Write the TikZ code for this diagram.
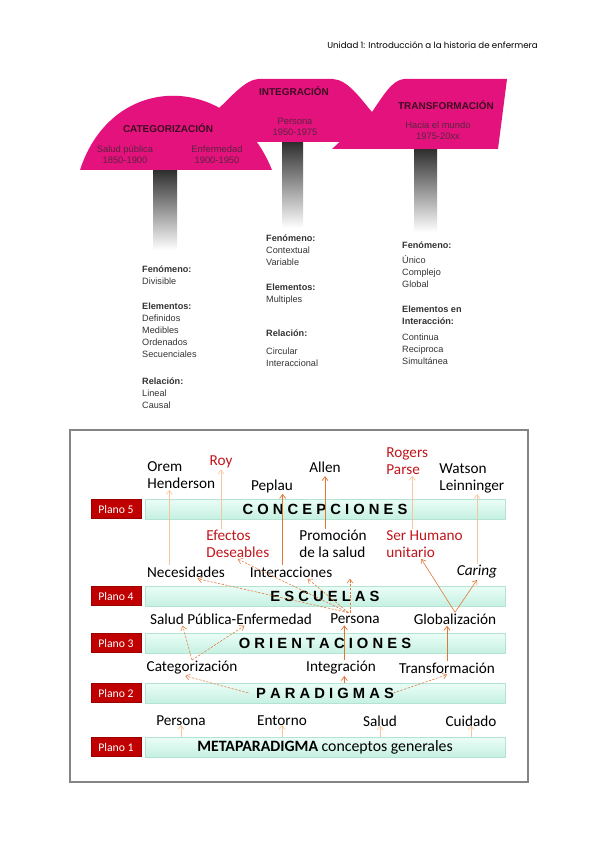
\documentclass[tikz,border=0pt]{standalone}
\usepackage{fontspec}
\setmainfont{Carlito}
\newfontfamily\arialf{Liberation Sans}
\newfontfamily\headf{Poppins}
\usepackage{tikz}
\usetikzlibrary{arrows.meta,positioning,shadows}
\definecolor{rosa}{HTML}{E4127C}
\definecolor{rosatxt}{HTML}{3D0A22}
\definecolor{rosasub}{HTML}{5B2342}
\definecolor{poste}{HTML}{2E2E2E}
\definecolor{gristxt}{HTML}{333333}
\definecolor{rojo}{HTML}{C00000}
\definecolor{rojotxt}{HTML}{C0161C}
\definecolor{naranja}{HTML}{E07636}
\definecolor{naranjaclaro}{HTML}{F7C59A}
\definecolor{menta}{HTML}{EAFDF7}
\definecolor{mentaosc}{HTML}{C6F1E2}
\definecolor{mentaborde}{HTML}{B5E3D3}
\definecolor{marco}{HTML}{858585}
\tikzset{plano/.style={fill=rojo,draw=rojo!80!black,text=white,font=\fontsize{10}{12}\selectfont,minimum width=1.5cm,minimum height=.57cm,inner sep=0pt},
barra/.style={top color=menta,bottom color=mentaosc,draw=mentaborde,line width=.3pt,minimum width=10.8cm,minimum height=.6cm,inner sep=0pt,drop shadow={opacity=.18,shadow xshift=.6pt,shadow yshift=-.8pt}},
rotulo/.style={font=\arialf\bfseries\fontsize{12.6}{14}\selectfont},
txt/.style={font=\fontsize{13}{14.5}\selectfont,inner sep=1pt,align=left},
rojos/.style={txt,text=rojotxt},
flecha/.style={-{Straight Barb[length=1.2mm,width=1.8mm]},draw=naranjaclaro,line width=.5pt},
flechaosc/.style={-{Straight Barb[length=1.2mm,width=1.8mm]},draw=naranja,line width=.6pt},
flechapunt/.style={-{Straight Barb[length=1.2mm,width=1.8mm]},draw=naranja,line width=.45pt,dash pattern=on 2pt off 1.2pt}}
\begin{document}
\begin{tikzpicture}[x=.03cm,y=-.03cm,
tit/.style={font=\arialf\bfseries\fontsize{8.5}{10}\selectfont,text=rosatxt,inner sep=0pt},
sub/.style={font=\arialf\fontsize{8}{9.4}\selectfont,text=rosasub,align=center,inner sep=0pt},
col/.style={font=\arialf\fontsize{7.8}{10.2}\selectfont,text=gristxt,align=left,anchor=north west,inner sep=0pt}]
\useasboundingbox[fill=white] (0,0) rectangle (600,848);
\node[font=\headf\fontsize{7.4}{8}\selectfont,anchor=east,inner sep=0pt] (cabecera) at (538,45) {Unidad 1: Introducción a la historia de enfermera};
% postes
\shade[top color=poste,bottom color=white] (153,170) rectangle (177,250);
\shade[top color=poste,bottom color=white] (282,142) rectangle (303,228);
\shade[top color=poste,bottom color=white] (414,149) rectangle (437,232);
% formas
\fill[rosa] (214,142) -- (214,113) .. controls (232,96) and (245,80) .. (258,79) -- (333,79) .. controls (348,80) and (360,98) .. (372,112) -- (372,142) -- cycle;
\fill[rosa] (80,170) .. controls (112,71) and (232,71) .. (272,170) -- cycle;
\fill[rosa] (332,149) -- (372,112) .. controls (383,96) and (392,80) .. (404,79) -- (507,79) -- (498,149) -- cycle;
\node[tit] (tcat) at (168,128) {CATEGORIZACIÓN};
\node[sub] (scat1) at (125,155) {Salud pública\\1850-1900};
\node[sub] (scat2) at (217,155) {Enfermedad\\1900-1950};
\node[tit] (tint) at (294,91) {INTEGRACIÓN};
\node[sub] (sint) at (295,127) {Persona\\1950-1975};
\node[tit] (ttra) at (446,105) {TRANSFORMACIÓN};
\node[sub] (stra) at (438,131) {Hacia el mundo\\1975-20xx};
% columnas
\node[col] (fen1) at (142,266) {\textbf{Fenómeno:}\\Divisible};
\node[col] (ele1) at (142,303) {\textbf{Elementos:}\\Definidos\\Medibles\\Ordenados\\Secuenciales};
\node[col] (rel1) at (142,378) {\textbf{Relación:}\\Lineal\\Causal};
\node[col] (fen2) at (266,235) {\textbf{Fenómeno:}\\Contextual\\Variable};
\node[col] (ele2) at (266,284) {\textbf{Elementos:}\\Multiples};
\node[col] (rel2) at (266,330) {\textbf{Relación:}\\[5pt]Circular\\Interaccional};
\node[col] (fen3) at (402,242) {\textbf{Fenómeno:}\\[2pt]Único\\Complejo\\Global};
\node[col] (ele3) at (402,306) {\textbf{Elementos en}\\\textbf{Interacción:}\\[3pt]Continua\\Reciproca\\Simultánea};
% cuadro inferior
\draw[marco,line width=1.4pt] (70,430) rectangle (528,782);
\foreach \n/\y in {5/509,4/596,3/643,2/693,1/747}{
  \node[plano] (p\n) at (116,\y) {Plano \n};
}
\node[barra,rotulo] (concep) at (325,509) {C O N C E P C I O N E S};
\node[barra,rotulo] (escuel) at (325,596) {E S C U E L A S};
\node[barra,rotulo] (orient) at (325,643) {O R I E N T A C I O N E S};
\node[barra,rotulo] (parad) at (325,693) {P A R A D I G M A S};
\node[barra,font=\fontsize{13.5}{15}\selectfont] (meta) at (325,747) {\textbf{METAPARADIGMA} conceptos generales};
% plano 5
\node[txt,anchor=west] (orem) at (146,475) {Orem\\Henderson};
\node[rojos] (roy) at (221,462) {Roy};
\node[txt] (peplau) at (272,486) {Peplau};
\node[txt] (allen) at (325,467) {Allen};
\node[rojos,anchor=west] (rogers) at (385,461) {Rogers\\Parse};
\node[txt,anchor=west] (watson) at (438,478) {Watson\\Leinninger};
% plano 4
\node[rojos,anchor=west] (efectos) at (205,544) {Efectos\\Deseables};
\node[txt,anchor=west] (promo) at (298,544) {Promoción\\de la salud};
\node[rojos,anchor=west] (ser) at (385,544) {Ser Humano\\unitario};
\node[txt] (neces) at (186,572) {Necesidades};
\node[txt] (inter) at (291,572) {Interacciones};
\node[txt,font=\itshape\fontsize{13}{14.5}\selectfont] (caring) at (477,572) {Caring};
% plano 3
\node[txt] (salud) at (231,619) {Salud Pública-Enfermedad};
\node[txt] (pers3) at (355,619) {Persona};
\node[txt] (glob) at (455,619) {Globalización};
% plano 2
\node[txt] (cat) at (192,668) {Categorización};
\node[txt] (integ) at (341,668) {Integración};
\node[txt] (trans) at (447,668) {Transformación};
% plano 1
\node[txt] (pers1) at (181,721) {Persona};
\node[txt] (ento) at (282,721) {Entorno};
\node[txt] (salu1) at (380,721) {Salud};
\node[txt] (cuid) at (471,721) {Cuidado};
% flechas hacia concepciones
\draw[flecha] ([xshift=-.5cm]neces.north) -- ([xshift=-.5cm]neces.north |- orem.south);
\draw[flecha] (roy.south |- efectos.north) -- (roy.south);
\draw[flechaosc] ([xshift=-.25cm]inter.north) -- ([xshift=-.25cm]inter.north |- peplau.south);
\draw[flechaosc] (allen.south |- promo.north) -- ([yshift=-2pt]allen.south);
\draw[flecha] ([xshift=.15cm]rogers.south |- ser.north) -- ([xshift=.15cm]rogers.south);
\draw[flecha] (caring.north) -- (caring.north |- watson.south);
% flechas hacia escuelas
\draw[flechapunt] ([xshift=-.2cm]pers3.north) -- ([xshift=.35cm]neces.south);
\draw[flechapunt] ([xshift=-.2cm]pers3.north) -- (efectos.south);
\draw[flechapunt] ([xshift=-.2cm]pers3.north) -- ([xshift=.5cm]inter.south);
\draw[flechapunt] ([xshift=-.15cm]pers3.north) -- ([xshift=-.15cm]pers3.north |- inter.south);
\draw[flecha,draw=naranja] (glob.north) -- ([xshift=-.1cm]ser.south);
\draw[flecha,draw=naranja] (glob.north) -- (caring.south);
% flechas hacia orientaciones
\draw[flechapunt] (cat.north) -- ([xshift=-1.45cm]salud.south);
\draw[flechapunt] (cat.north) -- ([xshift=.4cm]salud.south);
\draw[flechaosc] ([xshift=.1cm]integ.north) -- ([xshift=.1cm]integ.north |- pers3.south);
\draw[flechaosc] (trans.north) -- (trans.north |- glob.south);
% flechas hacia paradigmas
\draw[flechapunt] ([xshift=-2.3cm]parad.center) -- ([xshift=-.2cm]cat.south);
\draw[flechaosc] ([xshift=.1cm]integ.south |- parad.north) -- ([xshift=.1cm]integ.south);
\draw[flechapunt] ([xshift=2.05cm]parad.center) -- (trans.south);
% flechas hacia metaparadigma
\foreach \w in {pers1,ento,salu1,cuid}{
  \draw[flecha] (\w.south |- meta.north) -- ([yshift=2pt]\w.south);
}
\end{tikzpicture}
\end{document}
